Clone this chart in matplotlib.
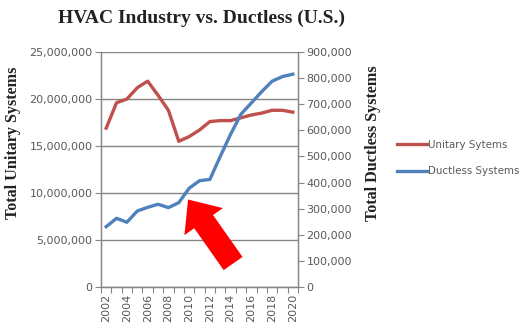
import matplotlib
matplotlib.use("Agg")
import matplotlib.pyplot as plt
from matplotlib.ticker import FuncFormatter, MultipleLocator
from matplotlib.patches import FancyArrow

years = list(range(2002, 2021))
unitary = [16.9e6, 19.6e6, 20.0e6, 21.2e6, 21.9e6, 20.4e6, 18.8e6, 15.5e6, 16.0e6, 16.7e6,
           17.6e6, 17.7e6, 17.7e6, 18.0e6, 18.3e6, 18.5e6, 18.8e6, 18.8e6, 18.6e6]
ductless = [231e3, 263e3, 248e3, 291e3, 305e3, 317e3, 304e3, 323e3, 378e3, 407e3,
            412e3, 500e3, 585e3, 662e3, 705e3, 748e3, 788e3, 806e3, 815e3]
year_labels = [str(y) if y % 2 == 0 else "" for y in years]
title = "HVAC Industry vs. Ductless (U.S.)"
left_label = "Total Unitary Systems"
right_label = "Total Ductless Systems"
names = ["Unitary Sytems", "Ductless Systems"]
arrow_target = (2009.9, 335e3)

RED = "#C0504D"
BLUE = "#4F81BD"
GRID = "#868686"
TXT = "#595959"

fig = plt.figure(figsize=(5.21, 3.35), dpi=100)
ax = fig.add_axes([101/521, 1-287/335, (298-101)/521, (287-52)/335])
ax2 = ax.twinx()

l1, = ax.plot(years, unitary, color=RED, lw=2.4, label=names[0])
l2, = ax2.plot(years, ductless, color=BLUE, lw=2.4, label=names[1])

ax.set_xlim(2001.5, 2020.5)
ax.set_ylim(0, 25e6)
ax2.set_ylim(0, 900e3)
ax.yaxis.set_major_locator(MultipleLocator(5e6))
ax2.yaxis.set_major_locator(MultipleLocator(1e5))
fmt = FuncFormatter(lambda v, p: f"{int(round(v)):,}")
ax.yaxis.set_major_formatter(fmt)
ax2.yaxis.set_major_formatter(fmt)
ax.set_xticks(years)
ax.set_xticklabels(year_labels, rotation=90)
ax.set_xticks([y + 0.5 for y in [2001] + years], minor=True)
ax.tick_params(axis="x", which="major", length=0, labelsize=8, labelcolor=TXT, pad=5)
ax.tick_params(axis="x", which="minor", length=4, color=GRID, width=0.8)
ax.tick_params(axis="y", length=4, color=GRID, width=0.8, labelsize=8, labelcolor=TXT, pad=2)
ax2.tick_params(axis="y", length=4, color=GRID, width=0.8, labelsize=8, labelcolor=TXT, pad=2)

ax.grid(axis="y", color=GRID, lw=1)
ax.set_axisbelow(True)
for a in (ax, ax2):
    a.spines["top"].set_visible(False)
    for s in ("left", "right", "bottom"):
        a.spines[s].set_color(GRID)
        a.spines[s].set_linewidth(0.9)

serif = ["Liberation Serif", "DejaVu Serif"]
fig.text(201/521, 1-18/335, title, ha="center", va="center", family=serif,
         fontweight="bold", fontsize=14, color="#222222")
ax.set_ylabel(left_label, family=serif, fontweight="bold", fontsize=11.6, color="#222222")
ax2.set_ylabel(right_label, family=serif, fontweight="bold", fontsize=11.6, color="#222222")
ax.yaxis.set_label_coords(-0.405, 0.613)
ax2.yaxis.set_label_coords(1.340, 0.613)

fig.legend([l1, l2], names, loc="center left", bbox_to_anchor=(388/521, 1-158/335),
           frameon=False, fontsize=7.4, handlelength=2.9, handletextpad=0.1,
           labelspacing=1.6, labelcolor=TXT)

# red pointer arrow, tip anchored on the data point of interest
tip_px = ax2.transData.transform(arrow_target)
tip_in = tip_px / fig.dpi
dx, dy = -0.45, 0.64
arrow = FancyArrow(tip_in[0] - dx, tip_in[1] - dy, dx, dy, width=0.23, head_width=0.47,
                   head_length=0.27, length_includes_head=True, color="#FF0000", lw=0,
                   transform=fig.dpi_scale_trans)
fig.patches.append(arrow)

fig.savefig("out.png", dpi=100)
